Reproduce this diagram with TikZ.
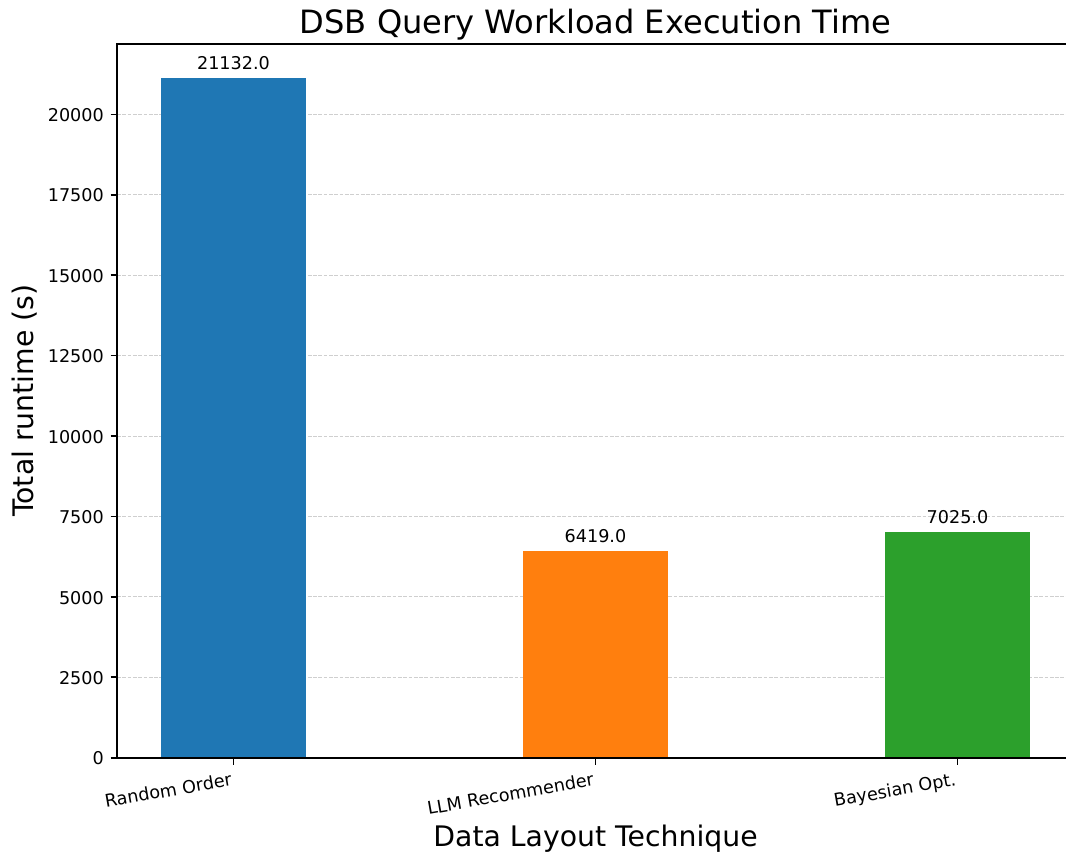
\documentclass[tikz,border=0pt]{standalone}
\usepackage{fontspec}
\setmainfont{DejaVu Sans}
\definecolor{barblue}{HTML}{1F77B4}
\definecolor{barorange}{HTML}{FF7F0E}
\definecolor{bargreen}{HTML}{2CA02C}
\definecolor{gridgray}{HTML}{CFCFCF}
\begin{document}
\begin{tikzpicture}[x=1pt,y=-1pt,
  spine/.style={line width=1.6pt},
  tickmark/.style={line width=1.6pt},
  gridline/.style={gridgray, line width=1pt, dash pattern=on 3.7pt off 1.6pt},
  ticklabel/.style={font=\fontsize{17.6}{21}\selectfont, inner sep=0pt},
  xticklabel/.style={ticklabel, rotate=10, anchor=north east, text height=13.4pt, text depth=4.2pt},
  yticklabel/.style={ticklabel, anchor=base east},
  barlabel/.style={ticklabel, anchor=base},
  axislabel/.style={font=\fontsize{28.3}{33}\selectfont, inner sep=0pt, anchor=base},
  titlelabel/.style={font=\fontsize{32.1}{38}\selectfont, inner sep=0pt, anchor=base}]
\useasboundingbox (0,0) rectangle (1066,855);

% values are handled in thousands of seconds: 1000 s = 32.17 px
% horizontal grid, behind the bars
\foreach \k in {2.5,5,...,20} {
  \pgfmathsetmacro\yy{757.7-\k*32.17}
  \draw[gridline] (117,\yy) -- (1066,\yy);
}

% bars with their value labels and category ticks
\foreach \i/\k/\txt/\c/\lab in {0/21.132/21132.0/barblue/Random Order,
                                1/6.419/6419.0/barorange/LLM Recommender,
                                2/7.025/7025.0/bargreen/Bayesian Opt.} {
  \pgfmathsetmacro\cx{233.5+362*\i}
  \pgfmathsetmacro\yy{757.7-\k*32.17}
  \fill[\c] (\cx-72.4,757.7) rectangle (\cx+72.4,\yy);
  \node[barlabel] (val\i) at (\cx,\yy-8.5) {\txt};
  \draw[tickmark] (\cx,757.7) -- (\cx,764.7);
  \node[xticklabel] (cat\i) at (\cx-3.1,772) {\lab};
}

% y ticks and their labels
\foreach \k/\txt in {0/0,2.5/2500,5/5000,7.5/7500,10/10000,12.5/12500,15/15000,17.5/17500,20/20000} {
  \pgfmathsetmacro\yy{757.7-\k*32.17}
  \draw[tickmark] (110.7,\yy) -- (117,\yy);
  \node[yticklabel] (ytick\txt) at (104,\yy+7.2) {\txt};
}

% axis frame
\draw[spine] (117,43.7) -- (117,757.7);
\draw[spine] (116.2,757.7) -- (1066,757.7);
\draw[spine] (116.2,43.7) -- (1066,43.7);

% titles
\node[titlelabel] (title) at (595.5,33.3) {DSB Query Workload Execution Time};
\node[axislabel] (xlabel) at (595.5,846) {Data Layout Technique};
\node[axislabel, rotate=90] (ylabel) at (33.5,400.7) {Total runtime (s)};
\end{tikzpicture}
\end{document}
